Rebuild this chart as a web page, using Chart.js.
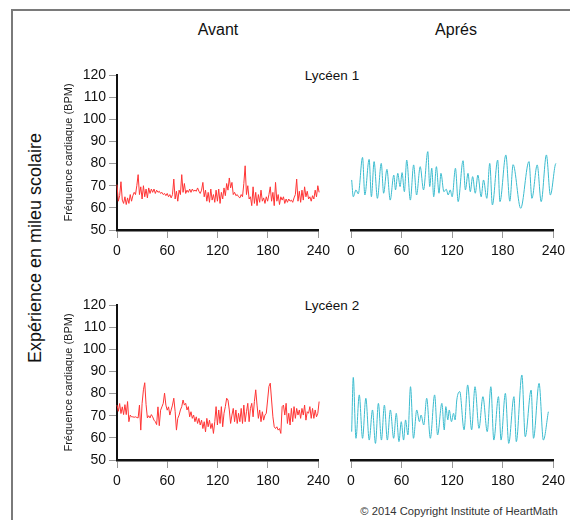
<!DOCTYPE html>
<html>
<head>
<meta charset="utf-8">
<script src="https://cdn.jsdelivr.net/npm/chart.js@4.4.1/dist/chart.umd.min.js"></script>
<style>
  body { margin: 0; width: 570px; height: 520px; background: #fff; position: relative; overflow: hidden;
         font-family: "Liberation Sans", Arial, Helvetica, sans-serif; color: #111; }
  .frame { position: absolute; left: 11px; top: 9px; width: 600px; height: 600px;
           border-top: 2px solid #7a7a7a; border-left: 2px solid #7a7a7a; }
  .lbl { position: absolute; white-space: nowrap; transform: translate(-50%, -50%); }
  .rot { transform: translate(-50%, -50%) rotate(-90deg); }
  canvas { position: absolute; }
</style>
</head>
<body>
<div class="frame"></div>
<div class="lbl" style="left:218px;top:30px;font-size:16px">Avant</div>
<div class="lbl" style="left:456px;top:30px;font-size:16px">Aprés</div>
<div class="lbl" style="left:332px;top:75px;font-size:13.5px">Lycéen 1</div>
<div class="lbl" style="left:332px;top:305px;font-size:13.5px">Lycéen 2</div>
<div class="lbl rot" style="left:35px;top:248px;font-size:18px">Expérience en mileu scolaire</div>
<div class="lbl" style="left:459px;top:511px;font-size:11.2px;color:#333">© 2014 Copyright Institute of HeartMath</div>

<canvas id="c1" width="275" height="210" style="left:60px;top:55px"></canvas>
<canvas id="c2" width="240" height="210" style="left:330px;top:55px"></canvas>
<canvas id="c3" width="275" height="210" style="left:60px;top:285px"></canvas>
<canvas id="c4" width="240" height="210" style="left:330px;top:285px"></canvas>

<script>
// seconds between samples of the "avant" recordings
const avantStep = 1.575;

// Lycéen 1, avant (BPM)
const avant1 = [
  70.5,63.0,65.5,71.8,63.5,62.0,65.0,61.5,64.5,62.0,
  66.0,63.0,65.5,67.0,66.0,70.0,75.0,66.0,69.5,64.0,
  70.0,65.0,68.5,64.5,69.0,66.5,68.5,67.0,68.5,66.5,
  68.0,67.0,67.5,66.5,67.0,66.0,66.5,65.5,66.5,65.0,
  66.0,64.5,66.0,73.0,64.0,67.5,63.0,68.0,66.0,75.0,
  67.0,71.0,66.5,68.0,67.0,68.5,67.0,68.5,67.5,68.0,
  67.5,69.0,67.5,66.5,68.0,71.5,65.0,68.0,63.0,67.0,
  62.5,68.5,63.5,66.0,62.5,68.0,63.0,68.5,62.0,67.0,
  64.0,69.0,65.5,71.0,68.0,73.5,69.0,71.5,66.0,67.0,
  65.5,66.0,65.0,64.5,66.0,65.0,71.0,79.0,66.0,70.0,
  64.0,65.0,61.0,69.5,62.0,67.0,61.0,66.0,62.5,68.0,
  63.0,64.5,62.0,65.0,63.0,66.0,69.5,63.0,67.0,61.0,
  71.5,63.0,66.0,61.5,65.0,63.5,65.0,62.0,64.0,62.5,
  64.0,63.0,63.5,62.5,64.5,66.0,73.0,63.0,67.5,62.5,
  68.0,63.5,69.5,65.0,67.5,64.0,65.0,63.0,65.5,64.0,
  68.0,65.0,70.0,67.0,72.5,66.0,64.0
];

// Lycéen 2, avant (BPM)
const avant2 = [
  74.8,72.0,75.5,71.0,74.0,70.5,75.0,70.5,76.4,67.3,
  70.3,69.5,69.5,69.3,69.5,69.2,69.0,74.8,63.5,75.6,
  81.7,84.9,75.0,69.0,70.0,69.0,70.5,69.5,68.0,67.3,
  66.0,74.0,65.5,72.5,74.0,75.6,80.2,74.8,72.5,74.0,
  70.3,72.6,74.8,77.9,72.0,63.5,68.8,70.3,72.6,74.1,
  77.1,74.8,75.6,72.6,74.1,69.5,71.8,68.8,70.3,67.3,
  69.5,66.5,68.8,65.8,68.0,64.2,67.3,62.7,68.8,65.0,
  68.0,64.2,66.5,62.0,67.3,74.1,65.8,72.6,66.5,74.1,
  65.0,71.1,74.1,77.9,77.1,72.6,66.5,70.3,73.3,67.3,
  72.6,66.5,71.1,67.3,73.3,66.5,74.8,67.3,71.8,75.6,
  67.3,73.3,75.6,69.5,76.4,81.7,74.8,68.8,72.6,67.3,
  71.8,68.0,70.3,71.1,77.1,83.2,84.7,77.1,69.5,65.0,
  64.2,65.0,63.5,64.2,62.0,74.1,74.8,70.3,75.6,66.5,
  71.1,65.8,73.3,67.3,74.1,68.8,73.3,70.3,72.6,68.8,
  73.3,70.3,74.8,68.0,71.8,71.1,74.1,68.8,73.3,68.8,
  72.6,69.5,71.1,76.4
];

// Lycéen 1, après: turning points (seconds, BPM)
const apres1Time = [0.8,2.7,5.9,8.6,13.7,16.4,21.5,24.2,27.4,31.3,35.9,38.7,42.6,46.5,50.8,52.8,55.5,58.2,60.6,63.3,
  66.1,70.4,74.3,77.8,82.1,86.0,91.1,93.4,95.8,98.1,101.3,104.4,106.7,110.2,113.0,115.3,117.7,120.0,123.9,127.1,
  132.9,135.7,138.8,141.5,144.3,147.4,150.5,154.4,157.2,161.1,164.6,167.7,174.0,176.7,183.7,188.4,192.3,201.3,211.1,214.6,
  220.9,225.6,231.8,236.5,243.2,245.1];
const apres1Bpm = [72.6,65.0,68.1,66.3,82.8,65.8,81.9,65.0,80.9,64.3,80.1,66.6,77.4,63.5,74.8,68.1,75.6,69.6,75.9,67.3,
  81.6,63.5,79.4,65.8,78.6,68.1,85.4,69.6,77.9,65.0,78.6,66.6,75.6,67.3,68.4,65.8,68.1,65.0,77.9,62.8,
  81.3,68.1,75.6,67.3,74.1,66.6,74.8,65.0,72.6,64.3,80.1,61.3,81.6,62.8,83.9,63.0,79.5,59.8,80.9,64.3,
  79.4,62.8,83.9,65.8,80.1,76.4];

// Lycéen 2, après: turning points (seconds, BPM)
const apres2Time = [0.8,2.7,5.9,9.8,13.7,17.6,21.6,25.5,29.0,32.5,36.1,39.6,43.1,46.7,50.6,53.7,56.9,59.6,62.4,64.7,
  67.5,70.6,74.1,78.0,81.2,83.1,86.3,89.8,94.1,99.2,102.7,107.8,110.6,112.5,114.9,116.5,119.2,121.6,123.5,125.5,
  129.0,134.1,138.4,143.1,147.1,151.8,156.5,161.6,165.9,169.4,174.9,178.0,183.1,187.1,193.3,196.1,202.7,206.7,213.7,216.5,
  223.1,228.2,234.1];
const apres2Bpm = [62.8,87.3,59.8,79.4,59.8,77.9,59.0,72.6,57.5,75.6,59.0,74.8,59.0,72.6,59.8,71.1,58.3,67.3,59.0,68.1,
  61.3,83.1,59.8,72.6,67.3,70.3,65.8,77.9,59.8,79.4,61.3,75.6,63.6,74.1,68.1,72.6,67.3,71.1,68.1,77.1,
  80.9,63.6,83.9,63.6,83.1,64.3,78.6,62.8,83.1,59.0,78.6,59.0,80.1,57.5,78.6,58.3,88.4,60.5,81.6,59.8,
  84.6,59.0,71.8];

const RED = '#ff3434';
const CYAN = '#3cbccf';
const FONT = "'Liberation Sans', Arial, Helvetica, sans-serif";

const sampled = (vals) => vals.map((v, i) => ({ x: i * avantStep, y: v }));
const paired = (ts, vals) => ts.map((t, i) => ({ x: t, y: vals[i] }));

function panel(id, points, color, withYAxis) {
  const smooth = !withYAxis;
  new Chart(document.getElementById(id), {
    type: 'line',
    data: {
      datasets: [{
        data: points,
        borderColor: color,
        borderWidth: 1,
        pointRadius: 0,
        clip: false,
        tension: smooth ? 0.4 : 0,
        cubicInterpolationMode: smooth ? 'monotone' : 'default',
      }],
    },
    options: {
      responsive: false,
      animation: false,
      events: [],
      layout: { padding: { left: withYAxis ? 0 : 21, top: 20, right: 14.3, bottom: 0 } },
      plugins: { legend: { display: false }, tooltip: { enabled: false } },
      scales: {
        x: {
          type: 'linear',
          min: 0,
          max: 240,
          afterFit: (s) => { s.height = 35; },
          ticks: { stepSize: 60, color: '#111', padding: 5, maxRotation: 0, font: { family: FONT, size: 14 } },
          grid: { drawOnChartArea: false, drawTicks: true, tickLength: 8, color: '#999', lineWidth: 1 },
          border: { display: true, color: '#111', width: 2.5 },
        },
        y: {
          display: withYAxis,
          min: 50,
          max: 120,
          afterFit: (s) => { s.width = withYAxis ? 57 : 0; },
          ticks: { stepSize: 10, color: '#111', padding: 3, font: { family: FONT, size: 14 } },
          grid: { drawOnChartArea: false, drawTicks: true, tickLength: 8, color: '#999', lineWidth: 1 },
          border: { display: true, color: '#111', width: 2 },
          title: {
            display: true,
            text: 'Fréquence cardiaque (BPM)',
            color: '#222',
            padding: { top: 2, bottom: 0 },
            font: { family: FONT, size: 11 },
          },
        },
      },
    },
  });
}

panel('c1', sampled(avant1), RED, true);
panel('c2', paired(apres1Time, apres1Bpm), CYAN, false);
panel('c3', sampled(avant2), RED, true);
panel('c4', paired(apres2Time, apres2Bpm), CYAN, false);
</script>
</body>
</html>
